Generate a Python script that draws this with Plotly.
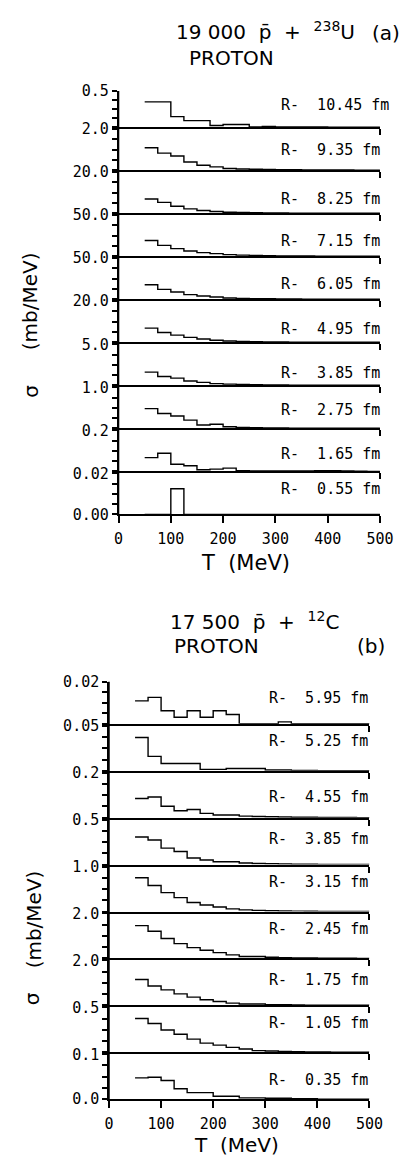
import plotly.graph_objects as go

W, H = 414, 1168

# proton kinetic-energy bin edges (MeV)
T_EDGES = [50, 75, 100, 125, 150, 175, 200, 225, 250, 275, 300,
           325, 350, 375, 400, 425, 450, 475, 500]

# ---- (a) 19 000 pbar + 238U, proton spectra per impact radius ----
U_RADII = ["10.45", "9.35", "8.25", "7.15", "6.05", "4.95", "3.85", "2.75", "1.65", "0.55"]
U_YMAX = [0.5, 2.0, 20.0, 50.0, 50.0, 20.0, 5.0, 1.0, 0.2, 0.02]
U_TOP_LABELS = ["0.5", "2.0", "20.0", "50.0", "50.0", "20.0", "5.0", "1.0", "0.2", "0.02"]
U_ZERO_LABEL = "0.00"

u_r1045 = [0.35, 0.35, 0.146, 0.091, 0.091, 0.023, 0.037, 0.037, 0.004, 0.010,
           0.004, 0.003, 0.002, 0.002, 0.001, 0.001, 0.0, 0.0]
u_r935 = [1.09, 0.83, 0.69, 0.40, 0.24, 0.16, 0.08, 0.06, 0.045, 0.035,
          0.025, 0.02, 0.015, 0.01, 0.008, 0.005, 0.003, 0.002]
u_r825 = [6.9, 5.3, 3.4, 2.1, 1.3, 0.8, 0.48, 0.32, 0.21, 0.14,
          0.09, 0.06, 0.04, 0.03, 0.02, 0.015, 0.01, 0.01]
u_r715 = [19.2, 13.2, 9.2, 6.4, 4.4, 3.2, 2.0, 1.3, 0.9, 0.6,
          0.4, 0.3, 0.2, 0.15, 0.1, 0.07, 0.05, 0.03]
u_r605 = [17.6, 12.0, 8.8, 5.6, 4.0, 2.8, 1.6, 1.1, 0.8, 0.55,
          0.4, 0.3, 0.2, 0.15, 0.1, 0.07, 0.05, 0.03]
u_r495 = [6.9, 4.8, 3.5, 2.4, 1.6, 0.96, 0.64, 0.45, 0.3, 0.2,
          0.14, 0.1, 0.07, 0.05, 0.035, 0.025, 0.02, 0.01]
u_r385 = [1.6, 1.08, 0.88, 0.52, 0.36, 0.2, 0.14, 0.1, 0.07, 0.05,
          0.035, 0.025, 0.018, 0.012, 0.008, 0.005, 0.004, 0.003]
u_r275 = [0.48, 0.36, 0.30, 0.20, 0.08, 0.10, 0.04, 0.02, 0.015, 0.01,
          0.008, 0.006, 0.005, 0.004, 0.003, 0.002, 0.001, 0.001]
u_r165 = [0.067, 0.088, 0.035, 0.027, 0.008, 0.011, 0.016, 0.003, 0.002, 0.002,
          0.002, 0.002, 0.002, 0.003, 0.003, 0.002, 0.001, 0.0]
u_r055 = [0.0, 0.0, 0.0125, 0.0, 0.0, 0.0, 0.0, 0.0, 0.0, 0.0,
          0.0, 0.0, 0.0, 0.0, 0.0, 0.0, 0.0, 0.0]

# ---- (b) 17 500 pbar + 12C ----
C_RADII = ["5.95", "5.25", "4.55", "3.85", "3.15", "2.45", "1.75", "1.05", "0.35"]
C_YMAX = [0.02, 0.05, 0.2, 0.5, 1.0, 2.0, 2.0, 0.5, 0.1]
C_TOP_LABELS = ["0.02", "0.05", "0.2", "0.5", "1.0", "2.0", "2.0", "0.5", "0.1"]
C_ZERO_LABEL = "0.0"

c_r595 = [0.0109, 0.0126, 0.0062, 0.0031, 0.0062, 0.0031, 0.0062, 0.0044, 0.0, 0.0,
          0.0, 0.0009, 0.0, 0.0, 0.0, 0.0, 0.0, 0.0]
c_r525 = [0.037, 0.016, 0.008, 0.008, 0.008, 0.0015, 0.0015, 0.0025, 0.0025, 0.0025,
          0.0008, 0.0008, 0.0003, 0.0002, 0.0001, 0.0001, 0.0, 0.0]
c_r455 = [0.085, 0.092, 0.051, 0.031, 0.036, 0.019, 0.012, 0.012, 0.007, 0.005,
          0.004, 0.003, 0.002, 0.002, 0.001, 0.001, 0.001, 0.0]
c_r385 = [0.307, 0.274, 0.183, 0.146, 0.073, 0.051, 0.031, 0.031, 0.018, 0.012,
          0.009, 0.006, 0.004, 0.003, 0.002, 0.002, 0.001, 0.001]
c_r315 = [0.75, 0.58, 0.42, 0.31, 0.20, 0.146, 0.10, 0.058, 0.037, 0.026,
          0.018, 0.012, 0.008, 0.006, 0.004, 0.003, 0.002, 0.001]
c_r245 = [1.46, 1.21, 0.89, 0.66, 0.48, 0.365, 0.26, 0.16, 0.088, 0.088,
          0.05, 0.035, 0.025, 0.018, 0.012, 0.008, 0.005, 0.003]
c_r175 = [1.15, 0.86, 0.69, 0.51, 0.365, 0.25, 0.175, 0.10, 0.058, 0.058,
          0.035, 0.025, 0.018, 0.012, 0.008, 0.006, 0.004, 0.002]
c_r105 = [0.376, 0.32, 0.248, 0.20, 0.146, 0.102, 0.08, 0.055, 0.036, 0.018,
          0.014, 0.01, 0.007, 0.005, 0.003, 0.002, 0.001, 0.001]
c_r035 = [0.0475, 0.049, 0.0416, 0.0234, 0.0146, 0.0146, 0.0066, 0.0066, 0.003, 0.003,
          0.002, 0.002, 0.001, 0.001, 0.0, 0.0, 0.0, 0.0]

U_SERIES = [u_r1045, u_r935, u_r825, u_r715, u_r605, u_r495, u_r385, u_r275, u_r165, u_r055]
C_SERIES = [c_r595, c_r525, c_r455, c_r385, c_r315, c_r245, c_r175, c_r105, c_r035]

# ---- page geometry (pixels from top-left) ----
GAP = 2.0                      # offset between a baseline and the next panel's top tick
A_XPIX = (119, 393)
A_TOP = 83.3
A_PITCH = 43.7
A_FIRST_BASE = 120.0
B_XPIX = (109, 382)
B_TOP = 683.3
B_PITCH = 47.66
B_FIRST_BASE = 726.0
U_LABEL_LIFT = [22, 20, 14.5, 15, 16, 13.5, 13, 18.5, 17.5, 26]
C_LABEL_LIFT = [26, 30, 21, 26, 30, 30, 26, 30, 20]
A_LABEL_X = 287
B_LABEL_X = 275

TICK_FONT = dict(family="DejaVu Sans Mono", size=15, color="black")
LABEL_FONT = dict(family="DejaVu Sans Mono", size=15, color="black")
TEXT_FONT = "DejaVu Sans"


def px_x(p):
    return p / W


def px_y(p):
    return 1 - p / H


fig = go.Figure()
layout = {}
annotations = []
shapes = []


def add_group(series, ymaxes, top_labels, zero_label, radii, lifts, xpix,
              top, first_base, pitch, label_x, start):
    bases = [first_base + pitch * k for k in range(len(series))]
    xdom = [px_x(xpix[0]), px_x(xpix[1])]
    last = len(series) - 1
    for k, vals in enumerate(series):
        n = start + k
        xs = "" if n == 1 else str(n)
        top_px = top if k == 0 else bases[k - 1] + GAP
        bot_px = bases[k]
        ymax = ymaxes[k]

        fig.add_trace(go.Scatter(
            x=T_EDGES, y=list(vals) + [vals[-1]],
            mode="lines", line=dict(shape="hv", color="black", width=1.4),
            xaxis="x" + xs, yaxis="y" + xs, showlegend=False, hoverinfo="skip",
        ))

        is_bottom = k == last
        layout["xaxis" + xs] = dict(
            domain=xdom, range=[0, 500], anchor="y" + xs,
            showline=True, linecolor="black", linewidth=2,
            showgrid=False, zeroline=False,
            ticks="outside", tickcolor="black", tickwidth=1.5,
            ticklen=7 if is_bottom else 6,
            tickmode="array",
            tickvals=[0, 100, 200, 300, 400, 500] if is_bottom else [500],
            ticktext=["0", "100", "200", "300", "400", "500"] if is_bottom else [""],
            showticklabels=is_bottom, tickfont=TICK_FONT,
            ticklabelstandoff=3,
        )
        ticktext = ["", "", "", "", top_labels[k]]
        if is_bottom:
            ticktext[0] = zero_label
        layout["yaxis" + xs] = dict(
            domain=[px_y(bot_px), px_y(top_px)], range=[0, ymax], anchor="x" + xs,
            showline=True, linecolor="black", linewidth=1.5,
            showgrid=False, zeroline=False,
            ticks="outside", tickcolor="black", tickwidth=1.5, ticklen=5,
            tickmode="array",
            tickvals=[0, ymax * 0.25, ymax * 0.5, ymax * 0.75, ymax],
            ticktext=ticktext, tickfont=TICK_FONT,
        )
        annotations.append(dict(
            xref="paper", yref="paper",
            x=px_x(label_x), y=px_y(bot_px - lifts[k]),
            xanchor="left", yanchor="middle", showarrow=False,
            text="R-  " + radii[k] + " fm", font=LABEL_FONT,
        ))
    # continuous left spine for the stack
    shapes.append(dict(
        type="line", xref="paper", yref="paper",
        x0=xdom[0], x1=xdom[0], y0=px_y(top), y1=px_y(bases[-1]),
        line=dict(color="black", width=1.5),
    ))


add_group(U_SERIES, U_YMAX, U_TOP_LABELS, U_ZERO_LABEL, U_RADII, U_LABEL_LIFT,
          A_XPIX, A_TOP, A_FIRST_BASE, A_PITCH, A_LABEL_X, 1)
add_group(C_SERIES, C_YMAX, C_TOP_LABELS, C_ZERO_LABEL, C_RADII, C_LABEL_LIFT,
          B_XPIX, B_TOP, B_FIRST_BASE, B_PITCH, B_LABEL_X, 1 + len(U_SERIES))


def text(xp, yp, s, size, angle=0, anchor="center"):
    annotations.append(dict(
        xref="paper", yref="paper", x=px_x(xp), y=px_y(yp),
        xanchor=anchor, yanchor="middle", showarrow=False, textangle=angle,
        text=s, font=dict(family=TEXT_FONT, size=size, color="black"),
    ))


# panel (a) headings and axis titles
text(273, 22, "19 000  p\u0304  +  <sup>238</sup>U", 20)
text(237, 50, "PROTON", 20)
text(399, 24, "(a)", 20)
text(27, 297, "(mb/MeV)", 20, angle=-90)
text(27, 388, "σ", 20, angle=-90)
text(252, 563, "T  (MeV)", 21)

# panel (b) headings and axis titles
text(262, 622, "17 500  p\u0304  +  <sup>12</sup>C", 20)
text(222, 647, "PROTON", 20)
text(384, 647, "(b)", 20)
text(30, 925, "(mb/MeV)", 20, angle=-90)
text(28, 1005, "σ", 20, angle=-90)
text(243, 1154, "T  (MeV)", 20)

fig.update_layout(
    width=W, height=H, autosize=False,
    margin=dict(l=0, r=0, t=0, b=0),
    paper_bgcolor="white", plot_bgcolor="rgba(0,0,0,0)",
    showlegend=False,
    annotations=annotations, shapes=shapes,
    **layout,
)

fig.write_html("out.html")
